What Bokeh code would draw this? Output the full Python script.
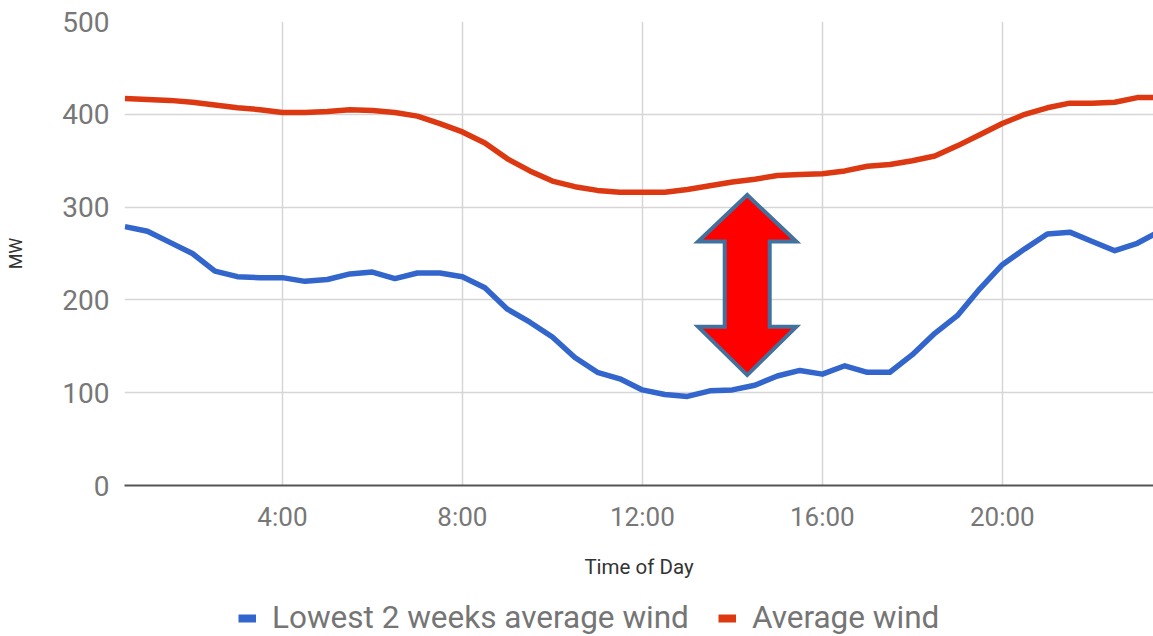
from bokeh.plotting import figure
from bokeh.layouts import column
from bokeh.models import FixedTicker, Legend, LegendItem, ColumnDataSource
from bokeh.embed import file_html
from bokeh.resources import INLINE

# ---- data (half-hourly, 0:30 .. 23:30) ----
hours = [h / 2 for h in range(1, 48)]
lowest_2_weeks = [279, 274, 262, 250, 231, 225, 224, 224, 220, 222, 228, 230, 223, 229, 229, 225,
                  213, 190, 176, 160, 138, 122, 115, 103, 98, 96, 102, 103, 108, 118, 124, 120,
                  129, 122, 122, 141, 164, 183, 212, 238, 255, 271, 273, 263, 253, 261, 274]
average_wind = [417, 416, 415, 413, 410, 407, 405, 402, 402, 403, 405, 404, 402, 398, 390, 381,
                369, 352, 339, 328, 322, 318, 316, 316, 316, 319, 323, 327, 330, 334, 335, 336,
                339, 344, 346, 350, 355, 366, 378, 390, 400, 407, 412, 412, 413, 418, 418]
x_ticks = [4, 8, 12, 16, 20]
x_tick_labels = ["4:00", "8:00", "12:00", "16:00", "20:00"]
y_ticks = [0, 100, 200, 300, 400, 500]
series_names = ["Lowest 2 weeks average wind", "Average wind"]
series_colors = ["#3366CC", "#DC3912"]

# annotation arrow (double-headed) in data units
arrow_center = 14.33
arrow_head_half = 1.09
arrow_shaft_half = 0.50
arrow_top, arrow_top_base = 313, 263
arrow_bottom_base, arrow_bottom = 171, 119

src = ColumnDataSource(dict(t=hours, low=lowest_2_weeks, avg=average_wind))

FIG_W = 1153
BORDER_L = 124
p = figure(width=FIG_W, height=600, x_range=(0.49, 23.36), y_range=(0, 500),
           output_backend="svg", toolbar_location=None,
           min_border_left=BORDER_L, min_border_right=0, min_border_top=21, min_border_bottom=115)
p.outline_line_color = None
p.background_fill_color = "white"

TICK_COLOR = "#777777"
FONT = "Roboto"

p.xaxis.ticker = FixedTicker(ticks=x_ticks)
p.xaxis.major_label_overrides = {t: l for t, l in zip(x_ticks, x_tick_labels)}
p.yaxis.ticker = FixedTicker(ticks=y_ticks)

for ax in (p.xaxis[0], p.yaxis[0]):
    ax.major_tick_line_color = None
    ax.minor_tick_line_color = None
    ax.major_label_text_font = FONT
    ax.major_label_text_color = TICK_COLOR
    ax.axis_label_text_font = FONT
    ax.axis_label_text_font_style = "normal"
    ax.axis_label_text_color = "#333333"

p.xaxis.major_label_text_font_size = "26px"
p.yaxis.major_label_text_font_size = "28px"
p.xaxis.axis_line_color = "#555555"
p.xaxis.axis_line_width = 2
p.yaxis.axis_line_color = None
p.xaxis.major_label_standoff = 10
p.yaxis.major_label_standoff = 9
p.xaxis.axis_label = "Time of Day"
p.xaxis.axis_label_text_font_size = "20.5px"
p.xaxis.axis_label_standoff = 20
p.yaxis.axis_label = "MW"
p.yaxis.axis_label_text_font_size = "18px"
p.yaxis.axis_label_standoff = 33

p.xgrid.ticker = FixedTicker(ticks=x_ticks)
p.ygrid.ticker = FixedTicker(ticks=y_ticks)
p.xgrid.grid_line_color = "#d6d6d6"
p.ygrid.grid_line_color = "#d6d6d6"
p.xgrid.grid_line_width = 1.5
p.ygrid.grid_line_width = 1.5

p.line("t", "low", source=src, line_color=series_colors[0], line_width=5.5, line_join="round")
p.line("t", "avg", source=src, line_color=series_colors[1], line_width=5.5, line_join="round")

# double-headed arrow
c, h, s = arrow_center, arrow_head_half, arrow_shaft_half
ax_pts = [c, c + h, c + s, c + s, c + h, c, c - h, c - s, c - s, c - h]
ay_pts = [arrow_top, arrow_top_base, arrow_top_base, arrow_bottom_base, arrow_bottom_base,
          arrow_bottom, arrow_bottom_base, arrow_bottom_base, arrow_top_base, arrow_top_base]
p.patch(ax_pts, ay_pts, fill_color="#FF0000", line_color="#41719C", line_width=4, line_join="miter")

# ---- legend strip (its own figure so it can sit below the axis title) ----
lg = figure(width=FIG_W, height=36, x_range=(0, 24), y_range=(1000, 1001),
            output_backend="svg", toolbar_location=None,
            x_axis_type=None, y_axis_type=None,
            min_border_left=BORDER_L, min_border_right=0, min_border_top=0, min_border_bottom=0)
lg.outline_line_color = None
lg.xgrid.visible = False
lg.ygrid.visible = False
lr_low = lg.line("t", "low", source=src, line_color=series_colors[0], line_width=8)
lr_avg = lg.line("t", "avg", source=src, line_color=series_colors[1], line_width=8)

legend = Legend(items=[LegendItem(label=series_names[0], renderers=[lr_low]),
                       LegendItem(label=series_names[1], renderers=[lr_avg])],
                orientation="horizontal", location=(114, 0),
                label_text_font=FONT, label_text_font_size="31.5px", label_text_color="#757575",
                glyph_width=18, glyph_height=20, label_standoff=16, spacing=29,
                padding=0, margin=0, border_line_alpha=0, background_fill_alpha=0)
lg.add_layout(legend, "center")

layout = column(p, lg, spacing=0)
open("out.html", "w").write(file_html(layout, INLINE))
